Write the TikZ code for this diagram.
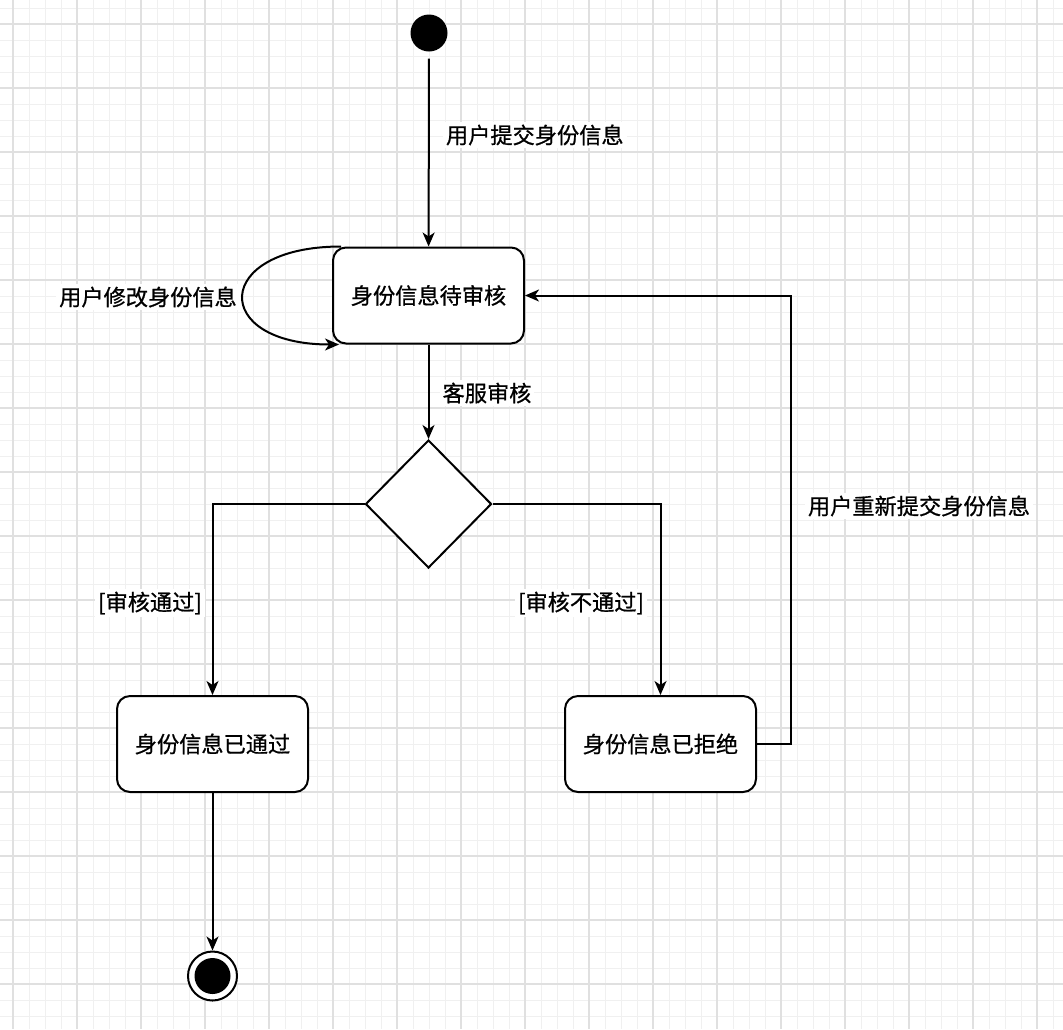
\documentclass[tikz,border=0pt]{standalone}
\usepackage{fontspec}
\setmainfont{Noto Sans CJK SC}[FakeBold=0.8]
\usetikzlibrary{shapes.geometric,arrows.meta,calc}

\begin{document}
\begin{tikzpicture}[x=0.5pt,y=-0.5pt,line width=1pt,
  >={Stealth[length=7pt,width=6pt,inset=2pt]},
  state/.style={draw,rounded corners=6.5pt,fill=white,minimum width=95.5pt,minimum height=48pt,inner sep=0pt},
  lbl/.style={fill=white,inner sep=1.5pt},
  minorgrid/.style={line width=0.5pt,draw=black!6},
  majorgrid/.style={line width=0.7pt,draw=black!12}]
\fontsize{11.1pt}{13pt}\selectfont
\useasboundingbox (0,0) rectangle (1063,1029);
\fill[white] (0,0) rectangle (1063,1029);

% grid
\foreach \x in {13,29,...,1061} \draw[minorgrid] (\x,0) -- (\x,1029);
\foreach \y in {8,24,...,1024} \draw[minorgrid] (0,\y) -- (1063,\y);
\foreach \x in {13,77,...,1061} \draw[majorgrid] (\x,0) -- (\x,1029);
\foreach \y in {24,88,...,1024} \draw[majorgrid] (0,\y) -- (1063,\y);

\node[circle,fill=black,minimum size=18.5pt,inner sep=0pt] (start) at (429,33) {};
\node[state] (wait) at (428.5,295.5) {身份信息待审核};
\node[diamond,draw,fill=white,minimum width=63pt,minimum height=64pt,inner sep=0pt] (check) at (428.5,504) {};
\node[state] (pass) at (212.5,744) {身份信息已通过};
\node[state] (reject) at (660.5,744) {身份信息已拒绝};
\node[circle,draw,fill=white,minimum size=24.5pt,inner sep=0pt] (end) at (212.5,976) {};
\node[circle,fill=black,minimum size=18pt,inner sep=0pt] (endin) at (end) {};

\draw[->,shorten <=3pt] (start) -- (wait);
\draw[->] ($(wait.north west)+(9,0)$) .. controls +(-129,0) and +(-129,0) .. ($(wait.south west)+(7,0)$);
\draw[->] (wait) -- (check);
\draw[->] (check.west) -| (pass.north);
\draw[->] (check.east) -| (reject.north);
\draw[->] (pass) -- (end);
\draw[->] (reject.east) -- ++(34,0) |- (wait.east);

\node[lbl,anchor=west] (submit) at (442,135) {用户提交身份信息};
\node[lbl] (modify) at (148,297) {用户修改身份信息};
\node[lbl] (audit) at (487,393) {客服审核};
\node[lbl] (ok) at (150,603) {[审核通过]};
\node[lbl] (fail) at (581,603) {[审核不通过]};
\node[lbl] (resubmit) at (919,506) {用户重新提交身份信息};
\end{tikzpicture}
\end{document}
